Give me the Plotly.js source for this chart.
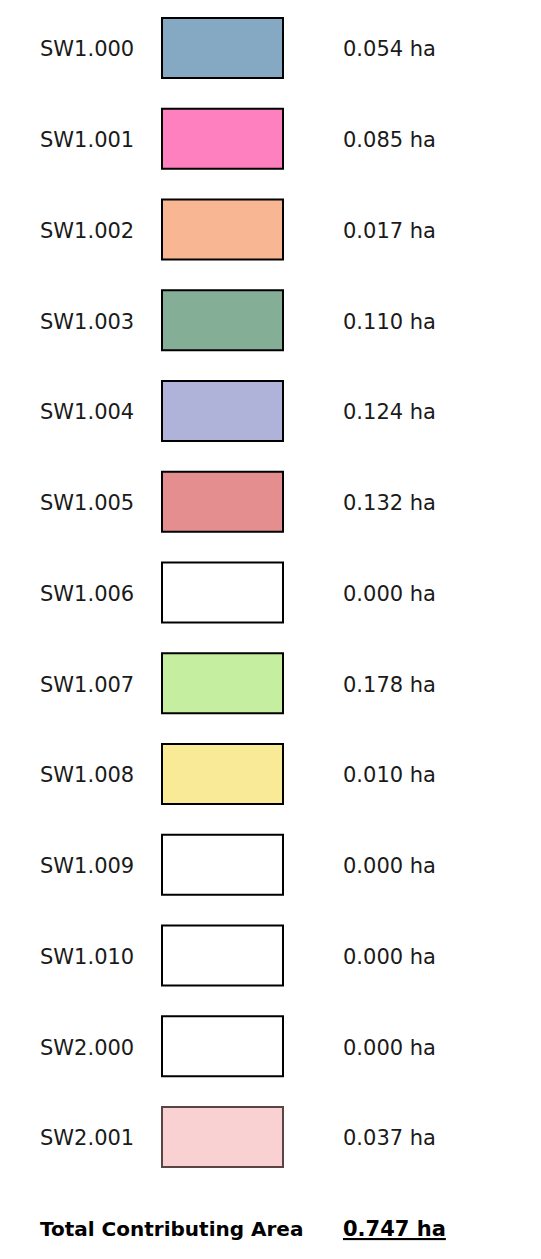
<!DOCTYPE html>
<html>
<head>
<meta charset="utf-8">
<script src="https://cdn.plot.ly/plotly-3.0.1.min.js"></script>
<style>html,body{margin:0;padding:0;background:#fff;}#chart{width:541px;height:1259px;}</style>
</head>
<body>
<div id="chart"></div>
<script>
const categories = ["SW1.000","SW1.001","SW1.002","SW1.003","SW1.004","SW1.005","SW1.006","SW1.007","SW1.008","SW1.009","SW1.010","SW2.000","SW2.001"];
const areas = [0.054,0.085,0.017,0.110,0.124,0.132,0.000,0.178,0.010,0.000,0.000,0.000,0.037];
const fillColors = ["#86A9C3","#FF80BF","#F8B693","#84AE96","#B0B3D9","#E48E90","#FFFFFF","#C6EEA1","#F9EA97","#FFFFFF","#FFFFFF","#FFFFFF","#F9D1D3"];
const borderColors = ["#000","#000","#000","#000","#000","#000","#000","#000","#000","#000","#000","#000","#5A4446"];
const totalLabel = "Total Contributing Area";
const totalArea = 0.747;
const unit = "ha";

const rows = categories.map((_, i) => i);
const FONT = "DejaVu Sans, Verdana, sans-serif";

const traces = [
  {
    type: "bar", orientation: "h",
    y: rows, x: rows.map(() => 121), base: 162, width: 0.661,
    marker: {color: fillColors, line: {color: borderColors, width: 2}},
    hoverinfo: "skip", showlegend: false
  },
  {
    type: "scatter", mode: "text", yaxis: "y2",
    x: rows.map(() => 40), y: rows, text: categories,
    textposition: "middle right",
    textfont: {family: FONT, size: 21, color: "#1a1a1a"},
    hoverinfo: "skip", showlegend: false
  },
  {
    type: "scatter", mode: "text", yaxis: "y2",
    x: rows.map(() => 343), y: rows, text: areas.map(v => v.toFixed(3) + " " + unit),
    textposition: "middle right",
    textfont: {family: FONT, size: 21, color: "#1a1a1a"},
    hoverinfo: "skip", showlegend: false
  },
  {
    type: "scatter", mode: "text", yaxis: "y2",
    x: [40], y: [categories.length],
    text: ["<b>" + totalLabel + "</b>"],
    textposition: "middle right",
    textfont: {family: FONT, size: 20, color: "#000"},
    hoverinfo: "skip", showlegend: false
  },
  {
    type: "scatter", mode: "text", yaxis: "y2",
    x: [343], y: [categories.length],
    text: ["<b><u>" + totalArea.toFixed(3) + " " + unit + "</u></b>"],
    textposition: "middle right",
    textfont: {family: FONT, size: 21, color: "#000"},
    hoverinfo: "skip", showlegend: false
  }
];

const layout = {
  width: 541, height: 1259,
  margin: {l: 0, r: 0, t: 0, b: 0},
  paper_bgcolor: "#fff", plot_bgcolor: "#fff",
  xaxis: {range: [0, 541], visible: false, fixedrange: true},
  yaxis: {range: [13.344, -0.529], visible: false, fixedrange: true},
  yaxis2: {range: [13.311, -0.562], visible: false, fixedrange: true, overlaying: "y"},
  showlegend: false
};

Plotly.newPlot("chart", traces, layout, {staticPlot: true, displayModeBar: false});
</script>
</body>
</html>
